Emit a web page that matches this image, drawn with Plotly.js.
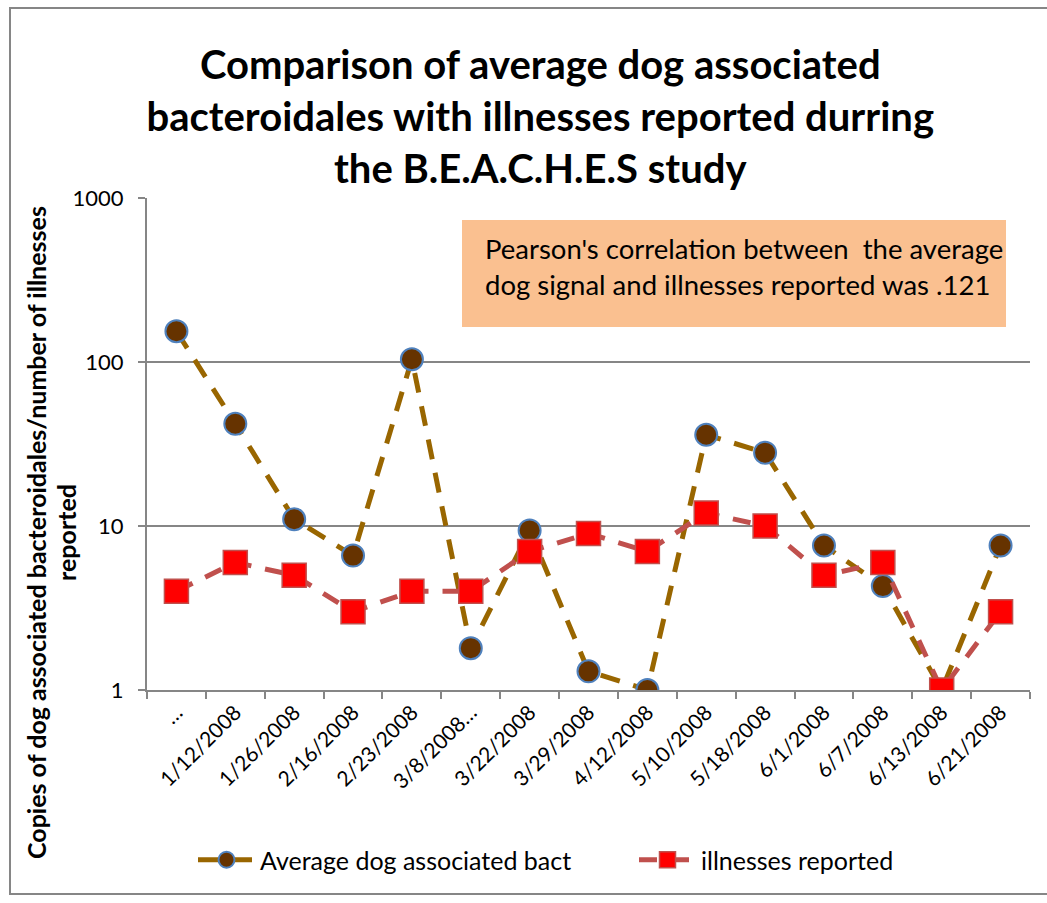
<!DOCTYPE html>
<html>
<head>
<meta charset="utf-8">
<script src="https://cdn.plot.ly/plotly-3.0.1.min.js"></script>
<style>
  html, body { margin: 0; padding: 0; background: #fff; overflow: hidden; }
  #chart { width: 1047px; height: 903px; }
  #frame { position: absolute; left: 9px; top: 7px; width: 1200px; height: 884px;
           border-left: 2px solid #868686; border-top: 2px solid #868686; border-bottom: 2px solid #868686;
           pointer-events: none; }
</style>
</head>
<body>
<div id="chart"></div>
<div id="frame"></div>
<script>
const categories = ["\u2026", "1/12/2008", "1/26/2008", "2/16/2008", "2/23/2008", "3/8/2008\u2026",
  "3/22/2008", "3/29/2008", "4/12/2008", "5/10/2008", "5/18/2008", "6/1/2008", "6/7/2008",
  "6/13/2008", "6/21/2008"];
const dogBact = [154, 42, 11, 6.6, 104, 1.8, 9.4, 1.3, 1.0, 36, 28, 7.6, 4.3, 1.0, 7.6];
const illnesses = [4, 6, 5, 3, 4, 4, 7, 9, 7, 12, 10, 5, 6, 1, 3];
const yTickVals = [1, 10, 100, 1000];
const yTickText = ["1", "10", "100", "1000"];

const FONT = "Lato, 'Open Sans', sans-serif";
const L = 147, R = 1030, T = 198, B = 690;
const px2x = p => (p - L) / (R - L);
const px2y = p => (B - p) / (B - T);

const traces = [
  {
    x: categories, y: dogBact, type: "scatter", mode: "lines+markers",
    name: "Average dog associated bact", legend: "legend",
    line: { color: "#996600", width: 5, dash: "20px,14px" },
    marker: { symbol: "circle", size: 22, color: "#663300", line: { color: "#4f81bd", width: 2 } }
  },
  {
    x: categories, y: illnesses, type: "scatter", mode: "lines+markers",
    name: "illnesses reported", legend: "legend2",
    line: { color: "#c0504d", width: 5, dash: "18px,14px" },
    marker: { symbol: "square", size: 24, color: "#ff0000", line: { color: "#c0504d", width: 1.5 } }
  }
];

const legendBase = {
  orientation: "h", xanchor: "left", y: px2y(860), yanchor: "middle",
  font: { family: FONT, size: 25, color: "#000" }, bgcolor: "rgba(0,0,0,0)",
  itemwidth: 57
};

const layout = {
  width: 1047, height: 903,
  margin: { l: L, r: 1047 - R, t: T, b: 903 - B, autoexpand: false },
  paper_bgcolor: "#ffffff", plot_bgcolor: "#ffffff",
  font: { family: FONT, color: "#000" },
  showlegend: true,
  title: {
    text: "Comparison of average dog associated<br>bacteroidales with illnesses reported durring<br>the B.E.A.C.H.E.S study",
    font: { family: FONT, size: 40, color: "#000", weight: "bold" },
    x: 0.516, xanchor: "center", xref: "container",
    y: 1 - 79 / 903, yanchor: "middle", yref: "container"
  },
  xaxis: {
    type: "category", range: [-0.5, categories.length - 0.5],
    tickson: "boundaries", ticks: "outside", ticklen: 7, tickcolor: "#868686", tickwidth: 2,
    showline: true, linecolor: "#868686", linewidth: 2, showgrid: false,
    tickangle: -45, tickfont: { family: FONT, size: 21, color: "#000" },
    zeroline: false, fixedrange: true
  },
  yaxis: {
    type: "log", range: [0, 3], tickvals: yTickVals, ticktext: yTickText,
    ticks: "outside", ticklen: 7, tickcolor: "#868686", tickwidth: 2,
    ticklabelstandoff: 10,
    showline: true, linecolor: "#868686", linewidth: 2,
    showgrid: true, gridcolor: "#868686", gridwidth: 2,
    tickfont: { family: FONT, size: 22, color: "#000" },
    zeroline: false, fixedrange: true
  },
  legend: Object.assign({}, legendBase, { x: px2x(193) }),
  legend2: Object.assign({}, legendBase, { x: px2x(634) }),
  shapes: [
    { type: "rect", xref: "paper", yref: "paper",
      x0: px2x(462), x1: px2x(1006), y0: px2y(327), y1: px2y(220),
      fillcolor: "#fac090", line: { width: 0 }, layer: "above" }
  ],
  annotations: [
    { xref: "paper", yref: "paper", x: px2x(483), y: px2y(266), xanchor: "left", yanchor: "middle",
      align: "left", showarrow: false,
      text: "Pearson's correlation between  the average<br>dog signal and illnesses reported was .121",
      font: { family: FONT, size: 27.5, color: "#000" } },
    { xref: "paper", yref: "paper", x: px2x(36), y: px2y(533), xanchor: "center", yanchor: "middle",
      textangle: -90, showarrow: false,
      text: "<b>Copies of dog associated bacteroidales/number of illnesses</b>",
      font: { family: FONT, size: 25, color: "#000" } },
    { xref: "paper", yref: "paper", x: px2x(66), y: px2y(533), xanchor: "center", yanchor: "middle",
      textangle: -90, showarrow: false,
      text: "<b>reported</b>",
      font: { family: FONT, size: 25, color: "#000" } }
  ]
};

Plotly.newPlot("chart", traces, layout, { displayModeBar: false, staticPlot: true });
</script>
</body>
</html>
